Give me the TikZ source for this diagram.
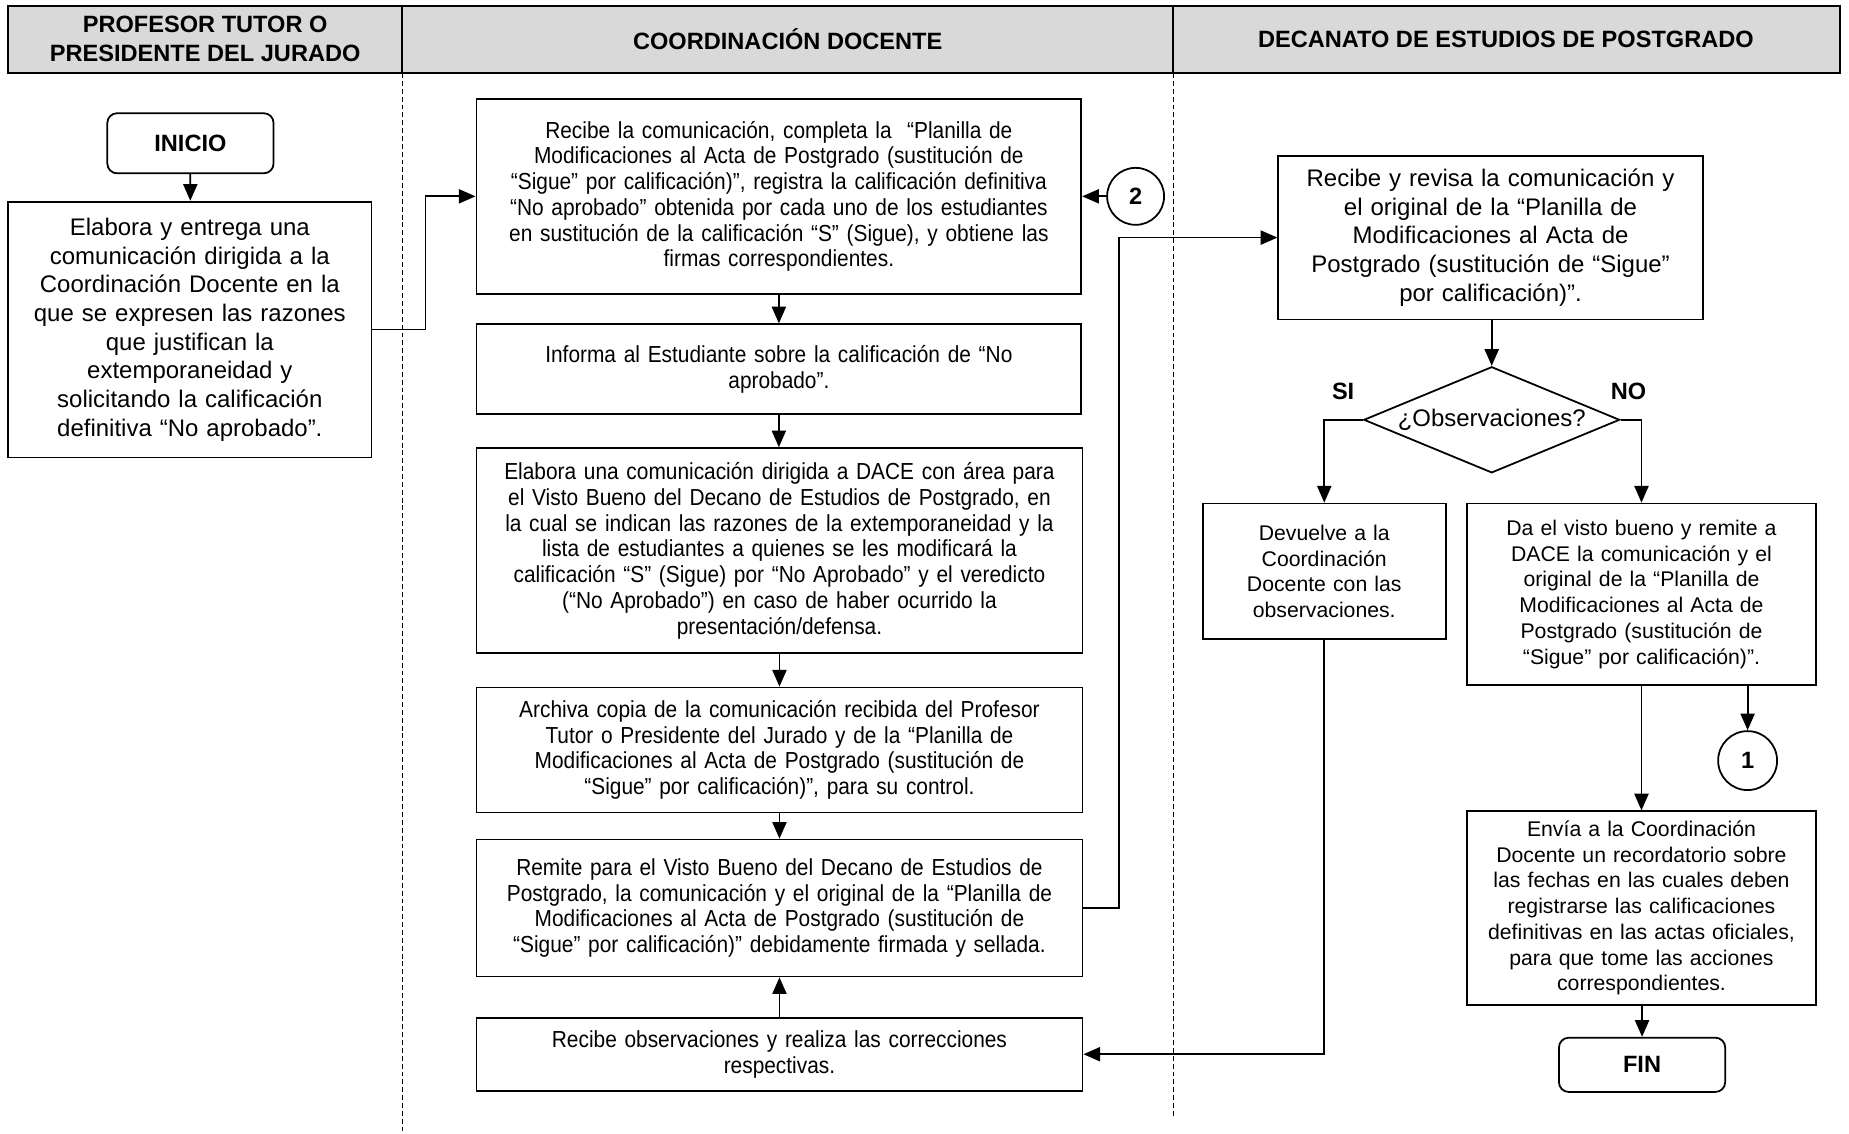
\documentclass[tikz,border=0pt]{standalone}
\usepackage{fontspec}
\setmainfont{Liberation Sans}
\newfontfamily\narrowfont{Liberation Sans}[FakeStretch=0.9]
\usetikzlibrary{shapes.geometric, arrows.meta, positioning, calc}

\definecolor{lanegray}{RGB}{217,217,217}
\newcommand{\boxfont}{\fontsize{10.8}{13.1}\selectfont}
\newcommand{\narrowboxfont}{\narrowfont\fontsize{11.8}{13.1}\selectfont}
\newcommand{\bigboxfont}{\fontsize{12.2}{14.6}\selectfont}
\newcommand{\headfont}{\fontsize{12}{15}\selectfont\bfseries}

\begin{document}
\begin{tikzpicture}[x=0.6pt, y=-0.6pt, >={Triangle[length=8.5pt, width=7.2pt]},
    process/.style={rectangle, draw, line width=0.9pt, align=center, inner xsep=0pt, inner ysep=2pt, font=\boxfont},
    coordprocess/.style={process, font=\narrowboxfont},
    bigprocess/.style={process, font=\bigboxfont},
    terminal/.style={rectangle, draw, line width=0.9pt, rounded corners=5pt, minimum width=84.6pt, font=\headfont},
    decision/.style={diamond, draw, line width=0.9pt, aspect=2.4, inner sep=0pt, minimum width=130.2pt, minimum height=54pt, font=\bigboxfont},
    connector/.style={circle, draw, line width=0.9pt, inner sep=0pt, minimum size=29pt, font=\headfont},
    lane/.style={line width=0.5pt, dash pattern=on 2.5pt off 1.5pt},
    flow/.style={->, line width=0.9pt}]

    \useasboundingbox (0,0) rectangle (1568,961);

    % Swimlanes
    \draw [line width=1pt, fill=lanegray] (7,5) rectangle (1560,62);
    \draw [line width=1pt] (341,5) -- (341,62) (995,5) -- (995,62);
    \draw [lane] (341,62) -- (341,961);
    \draw [lane] (995,62) -- (995,948);
    \node (lane_tutor) [align=center, font=\headfont] at (174,33) {PROFESOR TUTOR O\\PRESIDENTE DEL JURADO};
    \node (lane_coord) [font=\headfont] at (668,33) {COORDINACIÓN DOCENTE};
    \node (lane_decan) [font=\headfont] at (1277,33) {DECANATO DE ESTUDIOS DE POSTGRADO};

    % Profesor tutor
    \node (inicio) [terminal, minimum height=30.6pt] at (161.5,121.5) {INICIO};
    \node (elabora) [bigprocess, text width=184.8pt, minimum height=130.2pt] at (161,279.5) {Elabora y entrega una\\comunicación dirigida a la\\Coordinación Docente en la\\que se expresen las razones\\que justifican la\\extemporaneidad y\\solicitando la calificación\\definitiva “No aprobado”.};

    % Coordinacion docente
    \node (recibe) [coordprocess, text width=307.8pt, minimum height=99pt] at (660.5,166.5) {Recibe la comunicación, completa la \ “Planilla de\\Modificaciones al Acta de Postgrado (sustitución de\\“Sigue” por calificación)”, registra la calificación definitiva\\“No aprobado” obtenida por cada uno de los estudiantes\\en sustitución de la calificación “S” (Sigue), y obtiene las\\firmas correspondientes.};
    \node (informa) [coordprocess, text width=307.8pt, minimum height=45.6pt] at (660.5,313) {Informa al Estudiante sobre la calificación de “No\\aprobado”.};
    \node (comunica) [coordprocess, text width=308.4pt, minimum height=104.4pt] at (661,467) {Elabora una comunicación dirigida a DACE con área para\\el Visto Bueno del Decano de Estudios de Postgrado, en\\la cual se indican las razones de la extemporaneidad y la\\lista de estudiantes a quienes se les modificará la\\calificación “S” (Sigue) por “No Aprobado” y el veredicto\\(“No Aprobado”) en caso de haber ocurrido la\\presentación/defensa.};
    \node (archiva) [coordprocess, text width=308.4pt, minimum height=63.6pt] at (661,636) {Archiva copia de la comunicación recibida del Profesor\\Tutor o Presidente del Jurado y de la “Planilla de\\Modificaciones al Acta de Postgrado (sustitución de\\“Sigue” por calificación)”, para su control.};
    \node (remite) [coordprocess, text width=308.4pt, minimum height=69.6pt] at (661,770) {Remite para el Visto Bueno del Decano de Estudios de\\Postgrado, la comunicación y el original de la “Planilla de\\Modificaciones al Acta de Postgrado (sustitución de\\“Sigue” por calificación)” debidamente firmada y sellada.};
    \node (corrige) [coordprocess, text width=308.4pt, minimum height=37.2pt] at (661,894) {Recibe observaciones y realiza las correcciones\\respectivas.};
    \node (conn2) [connector] at (963,166.5) {2};

    % Decanato
    \node (revisa) [bigprocess, text width=216pt, minimum height=83.4pt] at (1264,201.5) {Recibe y revisa la comunicación y\\el original de la “Planilla de\\Modificaciones al Acta de\\Postgrado (sustitución de “Sigue”\\por calificación)”.};
    \node (obs) [decision] at (1265,356) {¿Observaciones?};
    \node (devuelve) [process, text width=123.6pt, minimum height=69pt] at (1123,484.5) {Devuelve a la\\Coordinación\\Docente con las\\observaciones.};
    \node (visto) [process, text width=177.6pt, minimum height=92.4pt] at (1392,504) {Da el visto bueno y remite a\\DACE la comunicación y el\\original de la “Planilla de\\Modificaciones al Acta de\\Postgrado (sustitución de\\“Sigue” por calificación)”.};
    \node (conn1) [connector, minimum size=30pt] at (1482,645) {1};
    \node (envia) [process, text width=177.6pt, minimum height=98.4pt] at (1392,770) {Envía a la Coordinación\\Docente un recordatorio sobre\\las fechas en las cuales deben\\registrarse las calificaciones\\definitivas en las actas oficiales,\\para que tome las acciones\\correspondientes.};
    \node (fin) [terminal, minimum height=27.6pt] at (1392.5,903) {FIN};
    \node (si) [font=\headfont] at (1139,332) {SI};
    \node (no) [font=\headfont] at (1381,332) {NO};

    % Main flow
    \draw [flow] (inicio) -- (elabora);
    \draw [flow] (elabora.east) -- ++(45,0) |- (recibe.west);
    \draw [flow] (conn2) -- (recibe);
    \draw [flow] (recibe.south -| informa) -- (informa);
    \draw [flow] (informa.south) -- (informa.south |- comunica.north);
    \draw [flow] (comunica) -- (archiva);
    \draw [flow] (archiva) -- (remite);
    \draw [flow] (corrige) -- (remite);
    \draw [flow] (remite.east) -- ++(30,0) |- (revisa.west);
    \draw [flow] (revisa.south -| obs) -- (obs.north);

    % Decision
    \draw [flow] (obs.west) -| (devuelve.north);
    \draw [flow] (obs.east) -| (visto.north);
    \draw [flow] (devuelve.south) |- (corrige.east);
    \draw [flow] (visto) -- (envia);
    \draw [flow] (visto.south -| conn1) -- (conn1);
    \draw [flow] (envia.south -| fin) -- (fin);

\end{tikzpicture}
\end{document}
